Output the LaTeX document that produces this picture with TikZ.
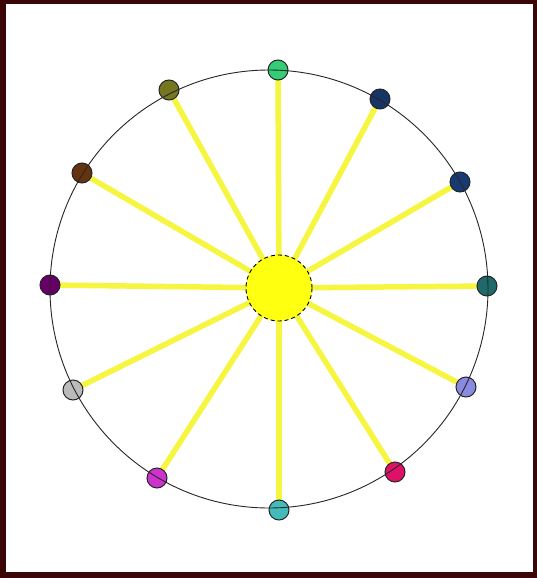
\documentclass[tikz,border=0pt]{standalone}
\begin{document}
\begin{tikzpicture}[x=1pt,y=-1pt,
  spoke/.style={draw=spokecol, line width=5.5pt},
  dot/.style={circle, draw=black!85, line width=1pt, minimum size=20pt, inner sep=0pt},
  rim/.style={draw=black!85, line width=0.9pt}]
\definecolor{frame}{HTML}{3A0608}
\definecolor{spokecol}{HTML}{F6F640}
\definecolor{hubcol}{HTML}{FFFF10}
\definecolor{cA}{HTML}{33CC77}
\definecolor{cB}{HTML}{163466}
\definecolor{cC}{HTML}{173A72}
\definecolor{cD}{HTML}{1E6A6A}
\definecolor{cE}{HTML}{8A8AE0}
\definecolor{cF}{HTML}{DD1166}
\definecolor{cG}{HTML}{44BBBB}
\definecolor{cH}{HTML}{CC33CC}
\definecolor{cI}{HTML}{BBBBBB}
\definecolor{cJ}{HTML}{660066}
\definecolor{cK}{HTML}{663311}
\definecolor{cL}{HTML}{777722}
\useasboundingbox (0,0) rectangle (537,578);
\fill[frame] (0,0) rectangle (537,578);
\fill[white] (6,4) rectangle (533,572);
\coordinate (hubc) at (279,288);
\coordinate (p1) at (278,70);
\coordinate (p2) at (380,99);
\coordinate (p3) at (460,182);
\coordinate (p4) at (487,286);
\coordinate (p5) at (466,387);
\coordinate (p6) at (395,472);
\coordinate (p7) at (279,510);
\coordinate (p8) at (157,478);
\coordinate (p9) at (73,390);
\coordinate (p10) at (50,285);
\coordinate (p11) at (82,173);
\coordinate (p12) at (169,90);
\foreach \i in {1,...,12} \draw[spoke] (hubc) -- (p\i);
\node[circle, fill=hubcol, draw=black, line width=0.9pt, dash pattern=on 4pt off 3pt, minimum size=66pt, inner sep=0pt] (hub) at (hubc) {};
\foreach \i/\c in {1/cA,2/cB,3/cC,4/cD,5/cE,6/cF,7/cG,8/cH,9/cI,10/cJ,11/cK,12/cL}
  \node[dot, fill=\c] (d\i) at (p\i) {};
\draw[rim] (269,289) circle (219);
\end{tikzpicture}
\end{document}
